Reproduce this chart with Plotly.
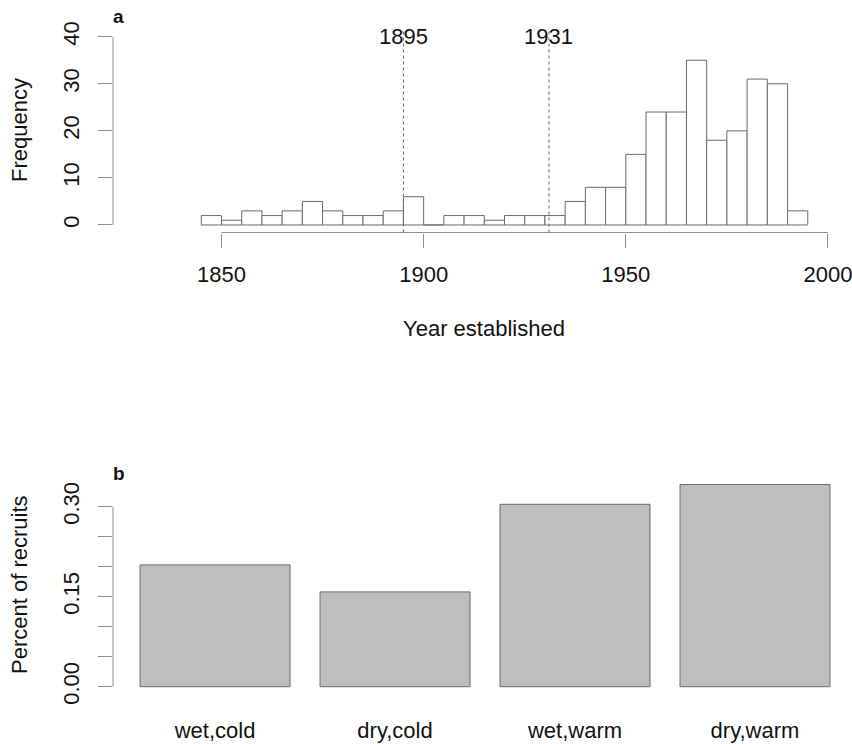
import plotly.graph_objects as go

# ---- data ----
bin_starts = list(range(1845, 1995, 5))
counts = [2, 1, 3, 2, 3, 5, 3, 2, 2, 3,
          6, 0, 2, 2, 1, 2, 2, 2, 5, 8,
          8, 15, 24, 24, 35, 18, 20, 31, 30, 3]
year_ticks = [1850, 1900, 1950, 2000]
freq_ticks = [0, 10, 20, 30, 40]
marker_years = [1895, 1931]

climates = ["wet,cold", "dry,cold", "wet,warm", "dry,warm"]
recruit_pct = [0.203, 0.158, 0.304, 0.337]
pct_ticks = [0.00, 0.05, 0.10, 0.15, 0.20, 0.25, 0.30]
pct_labels = ["0.00", "", "", "0.15", "", "", "0.30"]

FONT = "Liberation Sans, Arial, sans-serif"
AX = "#8e8e8e"
BORDER = "#6a6a6a"
W, H = 852, 744

bin_w = 5
centers = [s + bin_w / 2 for s in bin_starts]

fig = go.Figure()
fig.add_trace(go.Bar(x=centers, y=counts, width=bin_w,
                     marker=dict(color="white", line=dict(color=BORDER, width=1)),
                     xaxis="x", yaxis="y", showlegend=False))
fig.add_trace(go.Bar(x=climates, y=recruit_pct,
                     marker=dict(color="#bebebe", line=dict(color=BORDER, width=1)),
                     xaxis="x2", yaxis="y2", showlegend=False))

xdom = [113 / W, 1.0]
top_dom = [1 - 232.5 / H, 1 - 29.2 / H]
bot_dom = [1 - 694.8 / H, 1 - 476.4 / H]

tickfont = dict(family=FONT, size=22, color="#111")

fig.update_layout(
    width=W, height=H,
    margin=dict(l=0, r=0, t=0, b=0),
    paper_bgcolor="white", plot_bgcolor="white",
    bargap=1 / 6,
    font=dict(family=FONT, size=22, color="#111"),
    xaxis=dict(domain=xdom, anchor="y", range=[1823.17, 2005.94],
               tickmode="array", tickvals=year_ticks, ticks="outside",
               ticklen=14, tickcolor=AX, tickwidth=1, showline=False,
               showgrid=False, zeroline=False, tickfont=tickfont,
               ticklabelstandoff=8, ticklabeloverflow="allow", automargin=False),
    yaxis=dict(domain=top_dom, anchor="x", range=[-1.6, 41.6],
               tickmode="array", tickvals=freq_ticks, ticks="outside",
               ticklen=14, tickcolor=AX, tickwidth=1, showline=False,
               showgrid=False, zeroline=False, tickfont=tickfont,
               tickangle=-90, ticklabelstandoff=10, automargin=False),
    xaxis2=dict(domain=xdom, anchor="y2", range=[-0.567, 3.539],
                type="category", ticks="", showline=False, showgrid=False,
                zeroline=False, tickfont=tickfont, ticklabelstandoff=20,
                ticklabeloverflow="allow", automargin=False),
    yaxis2=dict(domain=bot_dom, anchor="x2", range=[-0.0135, 0.3505],
                tickmode="array", tickvals=pct_ticks, ticktext=pct_labels,
                ticks="outside", ticklen=14, tickcolor=AX, tickwidth=1,
                showline=False, showgrid=False, zeroline=False,
                tickfont=tickfont, tickangle=-90, ticklabelstandoff=10,
                automargin=False),
)

# axis lines spanning only the tick range (R style)
fig.add_shape(type="line", xref="x", yref="y domain", x0=year_ticks[0], x1=year_ticks[-1],
              y0=0, y1=0, line=dict(color=AX, width=1))
fig.add_shape(type="line", xref="x domain", yref="y", x0=0, x1=0,
              y0=freq_ticks[0], y1=freq_ticks[-1], line=dict(color=AX, width=1))
fig.add_shape(type="line", xref="x2 domain", yref="y2", x0=0, x1=0,
              y0=pct_ticks[0], y1=pct_ticks[-1], line=dict(color=AX, width=1))

# marker year lines and labels
for yr in marker_years:
    fig.add_shape(type="line", xref="x", yref="y domain", x0=yr, x1=yr, y0=0, y1=1,
                  line=dict(color="#666", width=1, dash="dot"))
    fig.add_annotation(x=yr, y=40, xref="x", yref="y", text=str(yr), showarrow=False,
                       font=dict(family=FONT, size=22, color="#111"),
                       xanchor="center", yanchor="middle")

# titles
fig.add_annotation(x=484 / W, y=1 - 328 / H, xref="paper", yref="paper",
                   text="Year established", showarrow=False,
                   font=dict(family=FONT, size=22, color="#111"),
                   xanchor="center", yanchor="middle")
fig.add_annotation(x=19 / W, y=1 - 130 / H, xref="paper", yref="paper",
                   text="Frequency", showarrow=False, textangle=-90,
                   font=dict(family=FONT, size=22, color="#111"),
                   xanchor="center", yanchor="middle")
fig.add_annotation(x=19 / W, y=1 - 585 / H, xref="paper", yref="paper",
                   text="Percent of recruits", showarrow=False, textangle=-90,
                   font=dict(family=FONT, size=22, color="#111"),
                   xanchor="center", yanchor="middle")
fig.add_annotation(x=119 / W, y=1 - 17 / H, xref="paper", yref="paper",
                   text="<b>a</b>", showarrow=False,
                   font=dict(family=FONT, size=19, color="#111"),
                   xanchor="center", yanchor="middle")
fig.add_annotation(x=119 / W, y=1 - 473 / H, xref="paper", yref="paper",
                   text="<b>b</b>", showarrow=False,
                   font=dict(family=FONT, size=19, color="#111"),
                   xanchor="center", yanchor="middle")

fig.write_html("out.html", config={"displayModeBar": False},
               post_script="document.body.style.margin='0';document.body.style.overflow='hidden';")
